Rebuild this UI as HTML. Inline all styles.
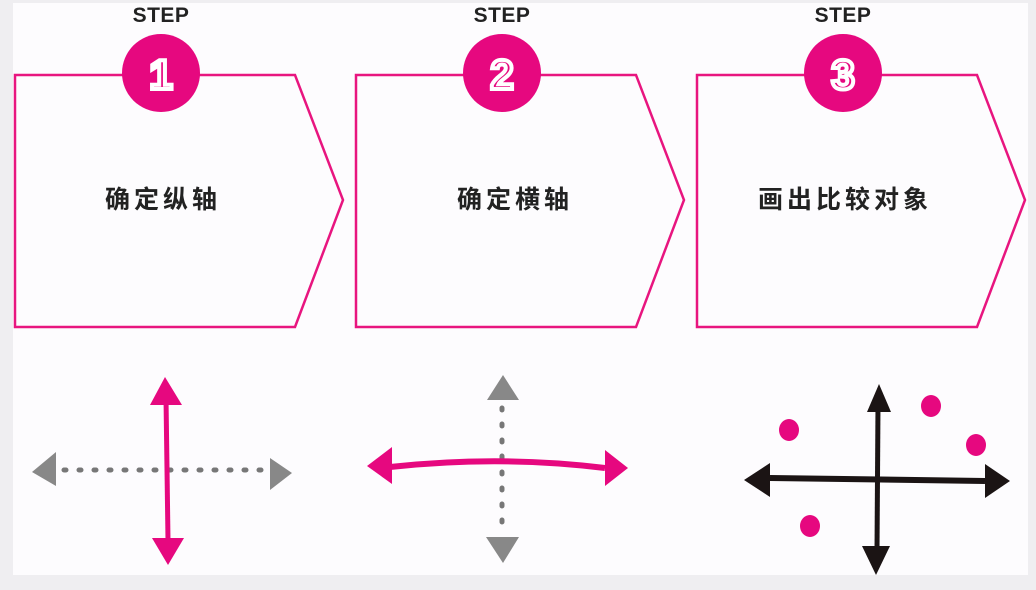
<!DOCTYPE html>
<html><head><meta charset="utf-8"><style>
html,body{margin:0;padding:0;background:#efeef1;}
svg{display:block}
</style></head><body>
<svg width="1036" height="590" viewBox="0 0 1036 590" xmlns="http://www.w3.org/2000/svg">
<rect x="0" y="0" width="1036" height="590" fill="#efeef1"/>
<rect x="13" y="3" width="1015" height="572" fill="#fdfcfe"/>
<g fill="none" stroke="#e8157f" stroke-width="2.5">
<polygon points="15,75 295,75 343,200 295,327 15,327"/>
<polygon points="356,75 636,75 684,200 636,327 356,327"/>
<polygon points="697,75 977,75 1025,200 977,327 697,327"/>
</g>
<g font-family="Liberation Sans, sans-serif" font-size="21" font-weight="bold" fill="#222" text-anchor="middle" letter-spacing="0.5">
<text x="161" y="22">STEP</text>
<text x="502" y="22">STEP</text>
<text x="843" y="22">STEP</text>
</g>
<g fill="#e6087f">
<circle cx="161" cy="73" r="39"/>
<circle cx="502" cy="73" r="39"/>
<circle cx="843" cy="73" r="39"/>
</g>
<g font-family="Liberation Sans, sans-serif" font-size="42" font-weight="bold" fill="#e6087f" stroke="#fff" stroke-width="4" text-anchor="middle">
<text x="161" y="89">1</text>
<text x="502" y="89">2</text>
<text x="843" y="89">3</text>
</g>
<g font-family="Liberation Sans, 'Noto Sans CJK SC', sans-serif" font-size="25" font-weight="bold" fill="#222" text-anchor="middle" letter-spacing="4">
<text x="163" y="208">确定纵轴</text>
<text x="515" y="208">确定横轴</text>
<text x="845" y="208">画出比较对象</text>
</g>
<!-- diagram 1 -->
<line x1="64" y1="470" x2="264" y2="470" stroke="#777" stroke-width="5" stroke-dasharray="2,13" stroke-linecap="round"/>
<polygon points="32,472 56,452 56,486" fill="#888"/>
<polygon points="292,473 270,458 270,490" fill="#888"/>
<line x1="166" y1="398" x2="168" y2="540" stroke="#e6087f" stroke-width="5"/>
<polygon points="165,377 150,405 182,405" fill="#e6087f"/>
<polygon points="168,565 152,538 184,538" fill="#e6087f"/>
<!-- diagram 2 -->
<line x1="502" y1="408" x2="502" y2="525" stroke="#777" stroke-width="5" stroke-dasharray="2,14" stroke-linecap="round"/>
<polygon points="503,375 487,400 519,400" fill="#888"/>
<polygon points="503,563 486,537 519,537" fill="#888"/>
<path d="M390,467 Q500,455 605,468" fill="none" stroke="#e6087f" stroke-width="6"/>
<polygon points="367,466 392,447 392,484" fill="#e6087f"/>
<polygon points="628,468 605,450 605,486" fill="#e6087f"/>
<!-- diagram 3 -->
<line x1="770" y1="478" x2="985" y2="481" stroke="#1b1414" stroke-width="6"/>
<line x1="878" y1="405" x2="877" y2="550" stroke="#1b1414" stroke-width="5"/>
<polygon points="744,480 770,463 770,497" fill="#1b1414"/>
<polygon points="1010,481 985,464 985,498" fill="#1b1414"/>
<polygon points="879,384 867,412 891,412" fill="#1b1414"/>
<polygon points="876,575 862,546 890,546" fill="#1b1414"/>
<g fill="#e6087f">
<ellipse cx="789" cy="430" rx="10" ry="11"/>
<ellipse cx="931" cy="406" rx="10" ry="11"/>
<ellipse cx="976" cy="445" rx="10" ry="11"/>
<ellipse cx="810" cy="526" rx="10" ry="11"/>
</g>
</svg>
</body></html>
